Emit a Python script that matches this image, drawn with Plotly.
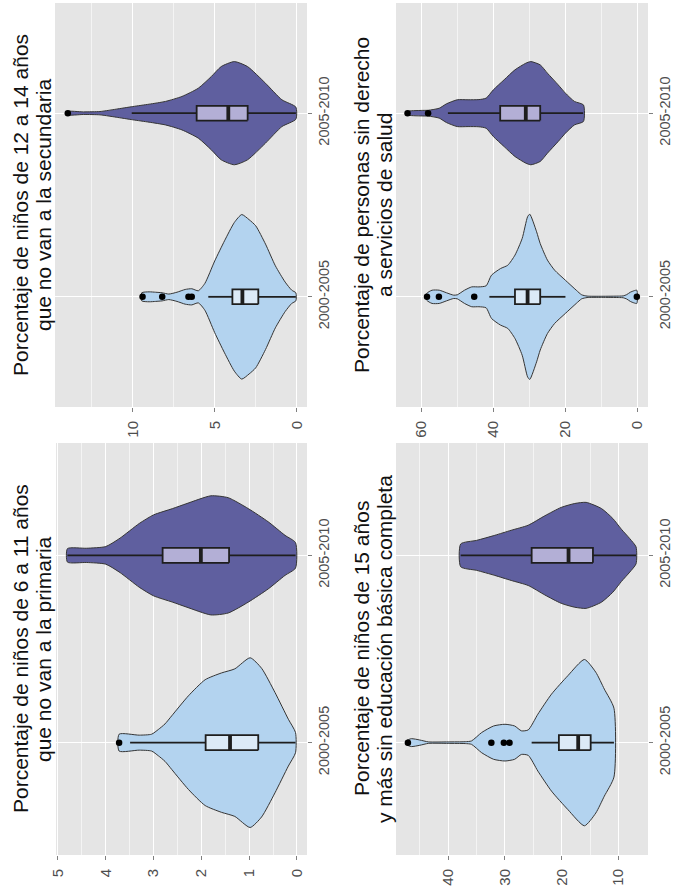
import plotly.graph_objects as go

# ---------------- data ----------------
periods = ["2000-2005", "2005-2010"]
period_pos = [1, 2]

# Panel: niños 12-14 que no van a la secundaria (top-left)
sec_title = ["Porcentaje de niños de 12 a 14 años", "que no van a la secundaria"]
sec_ticks = [0, 5, 10]
sec_minor = [2.5, 7.5, 12.5]
sec_a_vals = [9.45, 9.0, 8.6, 8.2, 7.8, 7.3, 6.8, 6.4, 6.0, 5.6, 5.0, 4.4, 3.8, 3.35, 2.9, 2.5, 1.9, 1.3, 0.7, 0.3, 0.05]
sec_a_half = [0.022, 0.027, 0.025, 0.022, 0.015, 0.025, 0.040, 0.044, 0.033, 0.073, 0.195, 0.305, 0.405, 0.448, 0.420, 0.387, 0.287, 0.169, 0.080, 0.036, 0.022]
sec_b_vals = [14.0, 13.0, 12.0, 11.5, 11.0, 10.0, 9.0, 8.0, 7.0, 6.0, 5.2, 4.6, 3.8, 3.0, 1.9, 0.9, 0.05]
sec_b_half = [0.009, 0.007, 0.009, 0.015, 0.022, 0.036, 0.049, 0.064, 0.091, 0.136, 0.200, 0.254, 0.281, 0.254, 0.163, 0.073, 0.033]
sec_a_box = [2.34, 3.31, 3.92, 0.05, 5.39]   # q1, median, q3, low whisker, high whisker
sec_b_box = [2.99, 4.17, 6.10, 0.05, 10.06]
sec_a_out = [9.4, 8.2, 6.6, 6.4]
sec_b_out = [13.96]

# Panel: personas sin derecho a servicios de salud (top-right)
sal_title = ["Porcentaje de personas sin derecho", "a servicios de salud"]
sal_ticks = [0, 20, 40, 60]
sal_minor = [10, 30, 50]
sal_a_vals = [58.5, 57, 55, 53, 51, 50, 48, 46, 44, 42, 40.5, 38, 36, 34, 32, 30.5, 29.9, 28, 27, 25, 23, 20, 17, 15.5, 14, 10, 5, 4, 3, 2, 1, 0.2]
sal_a_half = [0.018, 0.036, 0.036, 0.022, 0.009, 0.011, 0.036, 0.054, 0.054, 0.060, 0.118, 0.154, 0.172, 0.227, 0.318, 0.436, 0.450, 0.354, 0.290, 0.200, 0.145, 0.090, 0.036, 0.011, 0.004, 0.003, 0.004, 0.005, 0.012, 0.025, 0.033, 0.036]
sal_b_vals = [63.9, 60, 58, 55, 53, 50, 47, 44, 42, 40, 37, 34, 31, 29.6, 27, 25, 22, 20, 17.5, 15.0]
sal_b_half = [0.009, 0.015, 0.016, 0.027, 0.051, 0.073, 0.073, 0.074, 0.082, 0.127, 0.182, 0.236, 0.272, 0.281, 0.263, 0.218, 0.154, 0.109, 0.064, 0.045]
sal_a_box = [27.0, 30.5, 34.0, 20.0, 41.1]
sal_b_box = [27.0, 31.0, 38.1, 15.1, 52.6]
sal_a_out = [58.4, 55.1, 45.3, 0.2]
sal_b_out = [63.8, 58.1]

# Panel: niños 6-11 que no van a la primaria (bottom-left)
pri_title = ["Porcentaje de niños de 6 a 11 años", "que no van a la primaria"]
pri_ticks = [0, 1, 2, 3, 4, 5]
pri_minor = [0.5, 1.5, 2.5, 3.5, 4.5]
pri_a_vals = [3.72, 3.3, 3.04, 2.9, 2.76, 2.62, 2.27, 1.92, 1.58, 1.3, 0.98, 0.74, 0.46, 0.18, 0.03]
pri_a_half = [0.045, 0.040, 0.045, 0.070, 0.100, 0.143, 0.250, 0.336, 0.372, 0.394, 0.453, 0.397, 0.268, 0.125, 0.054]
pri_b_vals = [4.8, 4.4, 4.0, 3.7, 3.3, 3.0, 2.6, 2.3, 1.8, 1.44, 1.02, 0.6, 0.25, 0.03]
pri_b_half = [0.036, 0.038, 0.047, 0.092, 0.170, 0.216, 0.250, 0.277, 0.318, 0.308, 0.250, 0.179, 0.107, 0.068]
pri_a_box = [0.81, 1.40, 1.91, 0.03, 3.49]
pri_b_box = [1.42, 2.01, 2.81, 0.03, 4.80]
pri_a_out = [3.72]
pri_b_out = []

# Panel: 15 años y más sin educación básica completa (bottom-right)
bas_title = ["Porcentaje de niños de 15 años", "y más sin educación básica completa"]
bas_ticks = [10, 20, 30, 40]
bas_minor = [15, 25, 35, 45]
bas_a_vals = [47.4, 46.5, 45.0, 43.5, 40, 37, 35.9, 34.1, 32, 30, 28.3, 27.1, 25.9, 24.2, 21.8, 18.9, 16.0, 14.0, 12.5, 10.8]
bas_a_half = [0.010, 0.021, 0.014, 0.004, 0.004, 0.005, 0.009, 0.054, 0.089, 0.098, 0.089, 0.063, 0.068, 0.152, 0.259, 0.358, 0.444, 0.376, 0.286, 0.184]
bas_b_vals = [37.8, 35, 31.8, 28.9, 25.9, 23.0, 20.1, 17.7, 15.7, 13.0, 11.0, 9.5, 8.0, 6.9]
bas_b_half = [0.061, 0.080, 0.107, 0.134, 0.161, 0.211, 0.256, 0.277, 0.283, 0.250, 0.197, 0.140, 0.089, 0.045]
bas_a_box = [14.9, 17.1, 20.5, 10.8, 25.3]
bas_b_box = [14.5, 18.8, 25.3, 6.9, 37.8]
bas_a_out = [47.1, 32.4, 30.2, 29.2]
bas_b_out = []

# ---------------- styling ----------------
W, H = 673, 887
violin_fill = ["#b3d3ef", "#5f5f9f"]
box_fill = ["#dceaf7", "#b3afd6"]
outline = "#353535"
box_line = "#1e1e1e"
panel_bg = "#e5e5e5"
font_family = "Liberation Sans, Arial, Helvetica, sans-serif"

panels = [
    ("", (55, 307), (3, 407), (14.74, -0.63), sec_title, sec_ticks, sec_minor,
     [(sec_a_vals, sec_a_half, sec_a_box, sec_a_out), (sec_b_vals, sec_b_half, sec_b_box, sec_b_out)], (20, 43)),
    ("2", (396, 648), (3, 407), (67.0, -2.9), sal_title, sal_ticks, sal_minor,
     [(sal_a_vals, sal_a_half, sal_a_box, sal_a_out), (sal_b_vals, sal_b_half, sal_b_box, sal_b_out)], (361, 384)),
    ("3", (56, 307), (443, 855), (5.04, -0.21), pri_title, pri_ticks, pri_minor,
     [(pri_a_vals, pri_a_half, pri_a_box, pri_a_out), (pri_b_vals, pri_b_half, pri_b_box, pri_b_out)], (20, 43)),
    ("4", (396, 648), (443, 855), (49.2, 4.8), bas_title, bas_ticks, bas_minor,
     [(bas_a_vals, bas_a_half, bas_a_box, bas_a_out), (bas_b_vals, bas_b_half, bas_b_box, bas_b_out)], (361, 384)),
]

fig = go.Figure()
annotations = []
layout_axes = {}

box_w = 0.08
for suffix, xd, yd, vrange, title, ticks, minor, series, title_x in panels:
    xa = "x" + suffix
    ya = "y" + suffix
    for i, (vals, half, box, outs) in enumerate(series):
        c = period_pos[i]
        # violin outline
        xs = list(vals) + list(vals[::-1]) + [vals[0]]
        ys = [c + h for h in half] + [c - h for h in half[::-1]] + [c + half[0]]
        fig.add_trace(go.Scatter(
            x=xs, y=ys, mode="lines", fill="toself", fillcolor=violin_fill[i],
            line=dict(color=outline, width=1.0, shape="spline", smoothing=0.6),
            xaxis=xa, yaxis=ya, hoverinfo="skip", showlegend=False))
        q1, med, q3, lo, hi = box
        # whiskers
        fig.add_trace(go.Scatter(
            x=[lo, q1, None, q3, hi], y=[c, c, None, c, c], mode="lines",
            line=dict(color=box_line, width=1.8), xaxis=xa, yaxis=ya,
            showlegend=False, hoverinfo="skip"))
        # box
        fig.add_trace(go.Scatter(
            x=[q1, q3, q3, q1, q1],
            y=[c - box_w / 2, c - box_w / 2, c + box_w / 2, c + box_w / 2, c - box_w / 2],
            mode="lines", fill="toself", fillcolor=box_fill[i],
            line=dict(color=box_line, width=1.8), xaxis=xa, yaxis=ya,
            showlegend=False, hoverinfo="skip"))
        # median
        fig.add_trace(go.Scatter(
            x=[med, med], y=[c - box_w / 2, c + box_w / 2], mode="lines",
            line=dict(color=box_line, width=3.8), xaxis=xa, yaxis=ya,
            showlegend=False, hoverinfo="skip"))
        if outs:
            fig.add_trace(go.Scatter(
                x=outs, y=[c] * len(outs), mode="markers",
                marker=dict(color="black", size=6.5), xaxis=xa, yaxis=ya,
                showlegend=False, hoverinfo="skip"))

    layout_axes["xaxis" + suffix] = dict(
        domain=[xd[0] / W, xd[1] / W], range=list(vrange), anchor=ya,
        tickvals=ticks, tickangle=-90, ticks="outside", ticklen=4, tickwidth=1,
        tickcolor="#7f7f7f", showgrid=True, gridcolor="white", gridwidth=1.3,
        minor=dict(tickvals=minor, showgrid=True, gridcolor="#f4f4f4", gridwidth=0.7, ticks=""),
        zeroline=False, showline=False, automargin=False, fixedrange=True,
        tickfont=dict(size=15, color="#4d4d4d", family=font_family))
    layout_axes["yaxis" + suffix] = dict(
        domain=[1 - yd[1] / H, 1 - yd[0] / H], range=[0.4, 2.6], anchor=xa,
        tickvals=period_pos, ticktext=periods, side="right", tickangle=-90,
        ticks="outside", ticklen=4, tickwidth=1, tickcolor="#7f7f7f",
        showgrid=True, gridcolor="white", gridwidth=1.3,
        zeroline=False, showline=False, automargin=False, fixedrange=True,
        tickfont=dict(size=14.5, color="#4d4d4d", family=font_family))

    yc = (yd[0] + yd[1]) / 2
    for line_txt, tx in zip(title, title_x):
        annotations.append(dict(
            text=line_txt, x=tx / W, y=1 - yc / H, xref="paper", yref="paper",
            textangle=-90, showarrow=False, xanchor="center", yanchor="middle",
            font=dict(size=21, color="#111111", family=font_family)))

fig.update_layout(
    width=W, height=H, margin=dict(l=0, r=0, t=0, b=0),
    paper_bgcolor="white", plot_bgcolor=panel_bg,
    showlegend=False, annotations=annotations,
    **layout_axes)

try:
    fig.update_xaxes(ticklabelstandoff=3)
    fig.update_yaxes(ticklabelstandoff=0)
except Exception:
    pass

# remove the browser's default page margin so the figure sits at (0, 0)
fig.write_html("out.html", config={"displayModeBar": False},
               post_script="document.body.style.margin='0px';document.body.style.overflow='hidden';")
